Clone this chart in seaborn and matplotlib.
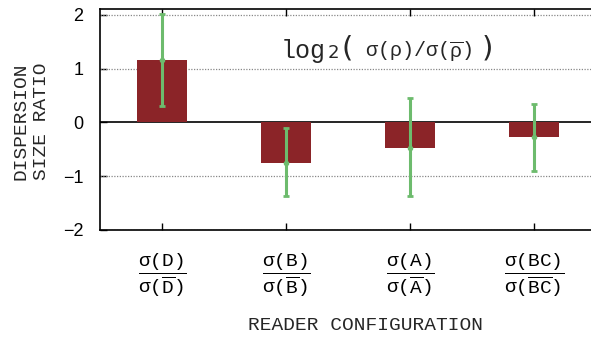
import numpy as np
import pandas as pd
import matplotlib
matplotlib.use("Agg")
import matplotlib.pyplot as plt
import seaborn as sns

# ---- data ----
configs = ["D", "B", "A", "BC"]
ratio = [1.15, -0.75, -0.47, -0.28]
err_low = [0.30, -1.37, -1.37, -0.90]
err_high = [2.01, -0.10, 0.45, 0.35]
yticks = [-2, -1, 0, 1, 2]

sns.set_style("white")
plt.rcParams["mathtext.fontset"] = "custom"
plt.rcParams["mathtext.rm"] = "Liberation Mono"
plt.rcParams["mathtext.it"] = "Liberation Mono"
plt.rcParams["mathtext.bf"] = "Liberation Mono"
plt.rcParams["font.family"] = ["Liberation Mono", "DejaVu Sans"]

W, H = 591, 339
fig = plt.figure(figsize=(W / 100, H / 100), dpi=100)
ax = fig.add_axes([100 / W, 1 - 230 / H, 491 / W, (230 - 9.3) / H])

df = pd.DataFrame({"config": configs, "ratio": ratio})
sns.barplot(data=df, x="config", y="ratio", color="#8b2428", saturation=1,
            width=0.4, errorbar=None, ax=ax, zorder=3, linewidth=0, edgecolor="none")

xpos = np.arange(len(configs))
r = np.array(ratio)
yerr = np.vstack([r - np.array(err_low), np.array(err_high) - r])
ax.errorbar(xpos, r, yerr=yerr, fmt="o", ms=3, color="#6dbb6d", ecolor="#6dbb6d",
            elinewidth=2.2, capsize=2, capthick=2, zorder=4)

ax.set_xlim(-0.5, 3.46)
ax.set_ylim(-2, 2.1)
ax.set_yticks(yticks)
ax.set_yticklabels([f"{v}" if v >= 0 else f"\u2212{-v}" for v in yticks],
                   family="Liberation Sans", fontsize=13)
ax.axhline(0, color="black", lw=1.2, zorder=2)
for v in yticks:
    if v != 0:
        ax.axhline(v, color="#888888", lw=0.9, ls=(0, (1, 1.2)), zorder=1)

labels = [r"$\dfrac{\mathrm{\sigma(%s)}}{\mathrm{\sigma(\overline{%s})}}$" % (c, c) for c in configs]
ax.set_xticks(xpos)
ax.set_xticklabels(labels, fontsize=14)

ax.tick_params(axis="x", direction="in", top=True, bottom=True, length=5, width=1,
               pad=15, colors="black")
ax.tick_params(axis="y", direction="in", left=True, right=False, length=5, width=1,
               pad=12, colors="black")
for s in ["left", "top", "bottom"]:
    ax.spines[s].set_color("black")
    ax.spines[s].set_linewidth(1.2)
ax.spines["right"].set_visible(False)

ax.set_xlabel("READER CONFIGURATION", fontsize=14)
ax.xaxis.set_label_coords((365.5 - 100) / 491, (230 - 325) / 220.7)
ax.xaxis.label.set_va("center")
ax.set_ylabel("DISPERSION\nSIZE RATIO", fontsize=14, linespacing=1.25)
ax.yaxis.set_label_coords((31 - 100) / 491, (230 - 121.5) / 220.7)
ax.yaxis.label.set_va("center")

# in-plot formula label
def ax_x(px):
    return (px - 100) / 491

base_y = (230 - 58) / 220.7
tkw = dict(transform=ax.transAxes, va="baseline", ha="left", zorder=5)
ax.text(ax_x(281), base_y, "log", fontsize=18, family="Liberation Mono", **tkw)
ax.text(ax_x(328), base_y, "2", fontsize=13, family="DejaVu Sans", **tkw)
ax.text(ax_x(341), base_y + 0.005, "(", fontsize=21, family="DejaVu Sans", **tkw)
ax.text(ax_x(365), base_y, r"σ(ρ)/σ($\overline{\mathrm{ρ}}$)", fontsize=14.5,
        family="Liberation Mono", **tkw)
ax.text(ax_x(482), base_y + 0.005, ")", fontsize=21, family="DejaVu Sans", **tkw)

fig.savefig("out.png", dpi=100)
